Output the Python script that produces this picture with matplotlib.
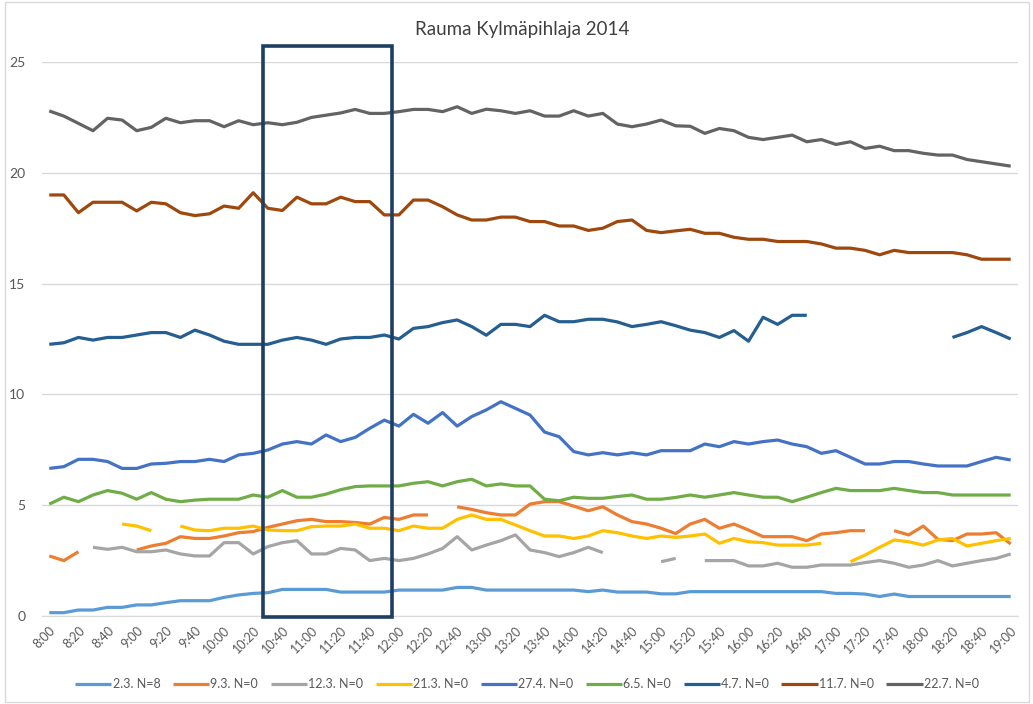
import numpy as np
import matplotlib
matplotlib.use("Agg")
import matplotlib.pyplot as plt
from matplotlib.patches import Rectangle

nan = np.nan
title = "Rauma Kylmäpihlaja 2014"

# time categories every 10 min 8:00 .. 19:00
times = [f"{8 + m // 60}:{m % 60:02d}" for m in range(0, 661, 10)]

s_2_3 = [0.15,0.15,0.27,0.27,0.39,0.39,0.5,0.5,0.6,0.69,0.69,0.69,0.84,0.95,1.02,1.05,1.2,1.2,1.2,1.2,1.08,
         1.08,1.08,1.08,1.17,1.17,1.17,1.17,1.29,1.29,1.17,1.17,1.17,1.17,1.17,1.17,1.17,1.1,1.17,1.08,1.08,1.08,
         1.0,1.0,1.1,1.1,1.1,1.1,1.1,1.1,1.1,1.1,1.1,1.1,1.02,1.02,0.99,0.88,0.99,0.88,0.88,0.88,0.88,0.88,0.88,0.88,0.88]
s_9_3 = [2.71,2.5,2.9,nan,nan,nan,2.98,3.16,3.28,3.58,3.5,3.5,3.61,3.76,3.81,4.0,4.15,4.3,4.36,4.26,4.26,
         4.22,4.15,4.45,4.36,4.56,4.56,nan,4.93,4.81,4.66,4.56,4.56,5.05,5.16,5.16,4.96,4.75,4.93,4.56,4.26,4.15,
         3.96,3.72,4.15,4.36,3.96,4.15,3.88,3.58,3.58,3.58,3.4,3.7,3.76,3.85,3.85,nan,3.85,3.66,4.06,3.46,3.4,3.7,3.7,3.76,3.25]
s_12_3 = [nan,nan,nan,3.1,3.01,3.1,2.9,2.9,2.98,2.8,2.71,2.71,3.31,3.31,2.8,3.13,3.31,3.4,2.8,2.8,3.05,
          2.98,2.5,2.6,2.5,2.6,2.8,3.05,3.58,2.98,3.2,3.4,3.66,2.98,2.86,2.68,2.86,3.1,2.86,nan,nan,nan,
          2.45,2.6,nan,2.5,2.5,2.5,2.26,2.26,2.38,2.2,2.2,2.3,2.3,2.3,2.41,2.5,2.38,2.2,2.3,2.5,2.26,2.38,2.5,2.6,2.8]
s_21_3 = [nan,nan,nan,nan,nan,4.15,4.06,3.85,nan,4.06,3.88,3.85,3.96,3.96,4.06,3.88,3.85,3.85,4.03,4.06,4.06,
          4.15,3.96,3.96,3.85,4.06,3.96,3.96,4.36,4.56,4.36,4.36,4.11,3.85,3.61,3.61,3.5,3.61,3.85,3.76,3.61,3.5,
          3.61,3.55,3.61,3.7,3.28,3.5,3.35,3.31,3.2,3.2,3.2,3.28,nan,2.45,2.75,3.1,3.43,3.35,3.2,3.43,3.5,3.16,3.28,3.4,3.5]
s_27_4 = [6.66,6.74,7.07,7.07,6.97,6.66,6.66,6.86,6.89,6.97,6.97,7.07,6.97,7.27,7.34,7.49,7.76,7.87,7.76,8.17,7.87,
          8.06,8.47,8.84,8.57,9.1,8.7,9.18,8.57,9.0,9.3,9.67,9.37,9.07,8.3,8.09,7.42,7.27,7.37,7.27,7.37,7.27,
          7.46,7.46,7.46,7.76,7.64,7.87,7.76,7.87,7.94,7.76,7.64,7.34,7.46,7.16,6.86,6.86,6.97,6.97,6.86,6.77,6.77,6.77,6.97,7.16,7.04]
s_6_5 = [5.05,5.36,5.16,5.46,5.66,5.54,5.27,5.57,5.27,5.16,5.23,5.27,5.27,5.27,5.46,5.36,5.66,5.36,5.36,5.5,5.7,
         5.84,5.87,5.87,5.87,5.99,6.06,5.87,6.06,6.17,5.87,5.96,5.87,5.87,5.27,5.2,5.36,5.31,5.31,5.39,5.46,5.27,
         5.27,5.35,5.46,5.36,5.46,5.57,5.46,5.36,5.36,5.16,5.36,5.57,5.76,5.66,5.66,5.66,5.76,5.66,5.57,5.57,5.46,5.46,5.46,5.46,5.46]
s_4_7 = [12.26,12.33,12.57,12.45,12.57,12.57,12.68,12.79,12.79,12.57,12.9,12.68,12.4,12.26,12.26,12.26,12.45,12.57,12.45,12.26,12.5,
         12.57,12.57,12.68,12.5,12.98,13.06,13.24,13.36,13.06,12.67,13.16,13.16,13.06,13.57,13.28,13.28,13.39,13.39,13.27,13.06,13.16,
         13.28,13.1,12.9,12.79,12.57,12.88,12.4,13.48,13.16,13.57,13.57,nan,nan,nan,nan,nan,nan,nan,nan,nan,12.57,12.79,13.06,12.79,12.5]
s_11_7 = [19.0,19.0,18.2,18.67,18.67,18.67,18.28,18.67,18.6,18.2,18.07,18.15,18.5,18.4,19.1,18.4,18.3,18.9,18.6,18.6,18.9,
          18.7,18.7,18.1,18.1,18.77,18.77,18.47,18.1,17.87,17.87,18.0,18.0,17.8,17.8,17.6,17.6,17.4,17.5,17.8,17.87,17.4,
          17.3,17.38,17.45,17.27,17.27,17.09,17.0,17.0,16.9,16.9,16.9,16.79,16.6,16.6,16.5,16.3,16.5,16.4,16.4,16.4,16.4,16.3,16.1,16.1,16.1]
s_22_7 = [22.79,22.56,22.23,21.9,22.46,22.38,21.9,22.05,22.46,22.26,22.35,22.35,22.08,22.35,22.17,22.26,22.17,22.28,22.5,22.6,22.7,
          22.86,22.68,22.68,22.76,22.86,22.86,22.76,22.98,22.68,22.87,22.8,22.68,22.8,22.56,22.56,22.8,22.56,22.68,22.2,22.08,22.2,
          22.38,22.12,22.1,21.78,22.0,21.9,21.6,21.5,21.6,21.7,21.4,21.5,21.28,21.4,21.1,21.2,21.0,21.0,20.88,20.8,20.8,20.6,20.5,20.4,20.3]

series_names = ["2.3. N=8", "9.3. N=0", "12.3. N=0", "21.3. N=0", "27.4. N=0",
                "6.5. N=0", "4.7. N=0", "11.7. N=0", "22.7. N=0"]
series_vals = [s_2_3, s_9_3, s_12_3, s_21_3, s_27_4, s_6_5, s_4_7, s_11_7, s_22_7]
colors = ["#5B9BD5", "#ED7D31", "#A5A5A5", "#FFC000", "#4472C4",
          "#70AD47", "#255E91", "#9E480E", "#636363"]

# highlighted window (category positions)
box_x0, box_x1 = 14.65, 23.55
box_y0, box_y1 = -0.05, 25.7

plt.rcParams['font.family'] = ['Lato', 'DejaVu Sans']

fig = plt.figure(figsize=(10.33, 7.04), dpi=100)
ax = fig.add_axes([42/1033, 1 - 616/704, (1018 - 42)/1033, (616 - 62)/704])

x = np.arange(len(times))
for name, vals, c in zip(series_names, series_vals, colors):
    ax.plot(x, np.array(vals, dtype=float), color=c, lw=2.3, label=name,
            solid_capstyle='butt', solid_joinstyle='round')

ax.add_patch(Rectangle((box_x0, box_y0), box_x1 - box_x0, box_y1 - box_y0,
                       fill=False, edgecolor="#1F3E64", lw=2.6, clip_on=False, zorder=5))

ax.set_xlim(-0.5, len(times) - 0.5)
ax.set_ylim(0, 25)
ax.set_yticks([0, 5, 10, 15, 20, 25])
ax.set_xticks(x[::2])
ax.set_xticklabels(times[::2], rotation=45, ha='right', va='top',
                   rotation_mode='anchor', fontsize=9, color="#595959")
ax.tick_params(axis='x', length=0, pad=6)
ax.tick_params(axis='y', length=0, pad=12, labelsize=10, labelcolor="#595959")
ax.grid(axis='y', color="#D9D9D9", lw=1)
ax.set_axisbelow(True)
for s in ['top', 'right', 'left']:
    ax.spines[s].set_visible(False)
ax.spines['bottom'].set_color("#D9D9D9")

fig.text(522/1033, 1 - 30/704, title, ha='center', va='center', fontsize=13.5, color="#404040")

leg = fig.legend(loc='center', bbox_to_anchor=(527/1033, 1 - 684/704), ncol=9,
                 frameon=False, fontsize=9, handlelength=2.9, handletextpad=0.1,
                 columnspacing=1.0)
for t in leg.get_texts():
    t.set_color("#595959")

fig.patches.append(Rectangle((5/1033, 2/704), 1 - 9/1033, 1 - 4/704, transform=fig.transFigure,
                             fill=False, edgecolor="#D9D9D9", lw=1))

fig.savefig("out.png", dpi=100)
